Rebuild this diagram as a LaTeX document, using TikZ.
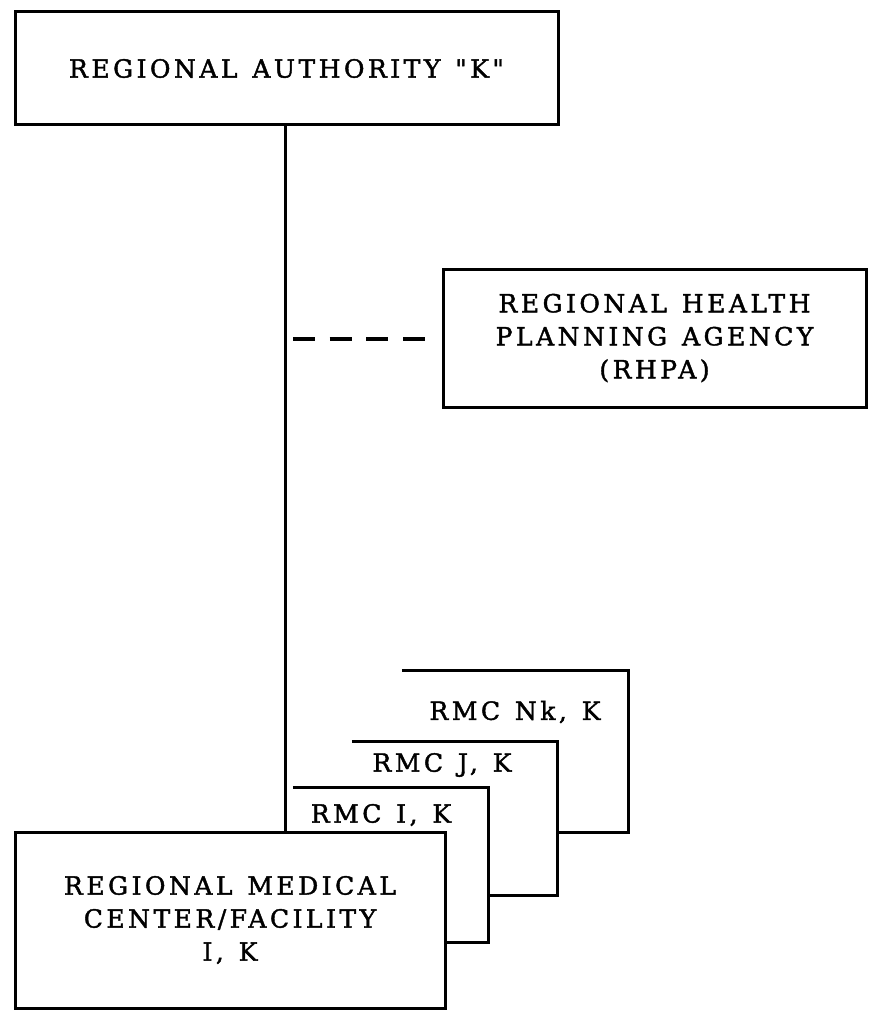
\documentclass[tikz,border=0pt]{standalone}
\usepackage{fontspec}
\newfontfamily\lbl{DejaVu Serif}[LetterSpace=14, FakeBold=1.6, WordSpace=1.3]
\begin{document}
\begin{tikzpicture}[x=1pt,y=-1pt,
  lw/.style={line width=3pt},
  box/.style={draw, lw, fill=white, inner sep=0pt, align=center,
    font=\lbl\fontsize{25}{33}\selectfont},
  stackfill/.style={fill=white, inner sep=0pt, draw=none},
  txt/.style={inner sep=0pt, align=center, font=\lbl\fontsize{25}{33}\selectfont},
  dashlink/.style={line width=4pt, dash pattern=on 22pt off 14.7pt}]
\useasboundingbox (0,0) rectangle (868,1011);
\fill[white] (0,0) rectangle (868,1011);

% top box
\node[box, minimum width=543pt, minimum height=113pt] (ra) at (286.5,68.5)
  {REGIONAL AUTHORITY "K"};

% RHPA box
\node[box, minimum width=423pt, minimum height=138pt] (rhpa) at (654.5,338)
  {REGIONAL HEALTH\\PLANNING AGENCY\\(RHPA)};

% stacked RMC boxes (back to front)
\node[stackfill, minimum width=226pt, minimum height=161pt] (bN) at (515,751.5) {};
\draw[lw] (bN.north west) -- (bN.north east) -- (bN.south east) -- (bN.south west);
\node[txt] (tN) at (515,712) {RMC Nk, K};

\node[stackfill, minimum width=205pt, minimum height=153pt] (bJ) at (454.5,818.5) {};
\draw[lw] (bJ.north west) -- (bJ.north east) -- (bJ.south east) -- (bJ.south west);
\node[txt] (tJ) at (442,765) {RMC J, K};

\node[stackfill, minimum width=195pt, minimum height=154pt] (bI) at (390.5,865) {};
\draw[lw] (bI.north west) -- (bI.north east) -- (bI.south east) -- (bI.south west);
\node[txt] (tI) at (381,815) {RMC I, K};

% bottom box
\node[box, minimum width=430pt, minimum height=176pt] (rmc) at (230,920)
  {REGIONAL MEDICAL\\CENTER/FACILITY\\I, K};

% connectors
\draw[lw] (285,0 |- ra.south) coordinate (vtop) -- (vtop |- rmc.north);
\coordinate (dA) at (293,339);
\coordinate (dB) at (425,339);
\draw[dashlink] (dA) -- (dB);
\end{tikzpicture}
\end{document}
